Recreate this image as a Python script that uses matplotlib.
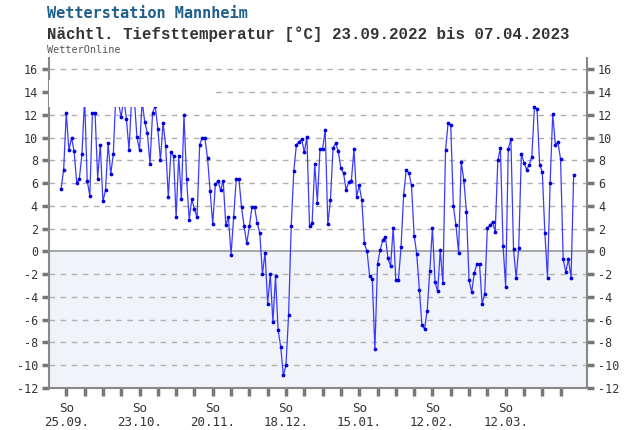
import matplotlib
matplotlib.use("Agg")
import matplotlib.pyplot as plt
import pandas as pd
from matplotlib.patches import Rectangle

# nightly minimum temperature, Mannheim, one value per day from 23.09.2022
start_date = "2022-09-23"
tmin = [
    5.5, 7.2, 12.2, 8.9, 10.0, 8.8, 6.0, 6.4, 8.6, 13.5,
    6.2, 4.9, 12.2, 12.2, 6.4, 9.4, 4.4, 5.4, 9.5, 6.8,
    8.6, 14.2, 13.0, 11.8, 13.5, 11.6, 8.9, 13.6, 13.5, 10.1,
    8.9, 13.2, 11.4, 10.4, 7.7, 12.2, 12.8, 10.8, 8.0, 11.3,
    9.3, 4.8, 8.7, 8.4, 3.0, 8.4, 4.6, 12.0, 6.4, 2.8,
    4.6, 3.7, 3.0, 9.4, 10.0, 10.0, 8.2, 5.3, 2.4, 5.9,
    6.2, 5.4, 6.2, 2.3, 3.0, -0.3, 3.0, 6.4, 6.4, 3.9,
    2.2, 0.7, 2.2, 3.9, 3.9, 2.5, 1.6, -2.0, -0.1, -4.6,
    -2.0, -6.2, -2.2, -6.9, -8.4, -10.9, -10.0, -5.6, 2.2, 7.1,
    9.4, 9.6, 9.9, 8.7, 10.1, 2.2, 2.5, 7.7, 4.3, 9.0,
    9.0, 10.7, 2.4, 4.5, 9.1, 9.5, 8.8, 7.3, 6.9, 5.4,
    6.1, 6.2, 9.0, 4.8, 5.8, 4.5, 0.7, 0.0, -2.2, -2.4,
    -8.6, -1.1, 0.1, 1.0, 1.3, -0.6, -1.3, 2.1, -2.5, -2.5,
    0.4, 5.0, 7.2, 6.9, 5.8, 1.4, -0.2, -3.4, -6.5, -6.8,
    -5.2, -1.7, 2.1, -2.7, -3.5, 0.1, -2.8, 8.9, 11.3, 11.1,
    4.0, 2.3, -0.1, 7.9, 6.3, 3.5, -2.5, -3.6, -1.9, -1.1,
    -1.1, -4.6, -3.7, 2.1, 2.3, 2.6, 1.7, 8.0, 9.1, 0.5,
    -3.1, 9.0, 9.9, 0.2, -2.3, 0.3, 8.6, 7.8, 7.2, 7.6,
    8.3, 12.7, 12.5, 7.6, 7.0, 1.6, -2.3, 6.0, 12.1, 9.4,
    9.6, 8.1, -0.7, -1.8, -0.7, -2.3, 6.7,
]
y_ticks = list(range(-12, 17, 2))
first_sunday = "2022-09-25"
last_sunday = "2023-04-02"

dates = pd.date_range(start_date, periods=len(tmin), freq="D")
week_ticks = pd.date_range(first_sunday, last_sunday, freq="7D").to_pydatetime()
week_labels = [("So\n" + d.strftime("%d.%m.")) if i % 4 == 0 else "" for i, d in enumerate(week_ticks)]

fig = plt.figure(figsize=(6.35, 4.3), dpi=100)
ax = fig.add_axes([0.0772, 0.0977, 0.8472, 0.7673])

ax.set_xlim(dates[0] - pd.Timedelta(days=4.6), dates[0] + pd.Timedelta(days=201.1))
ax.set_ylim(-12, 17)

# frost area and grid
ax.axhspan(-12, 0, color="#f0f4fa", zorder=0)
for v in y_ticks:
    if v == 0:
        ax.axhline(v, color="#999999", lw=1.2, zorder=1)
    elif v > -12:
        ax.axhline(v, color="#b0b0b0", lw=1.0, ls=(0, (4, 4)), zorder=1)

ax.plot(dates, tmin, color="#3a3aff", lw=0.9, zorder=3,
        marker="o", markersize=1.7, markerfacecolor="#0000dd", markeredgecolor="#0000dd")

# blank box at top left (covers the upper part of the line)
ax.add_patch(Rectangle((0, 0.852), 0.3086, 0.082, transform=ax.transAxes,
                       facecolor="white", edgecolor="none", zorder=4))

ax.set_yticks(y_ticks)
ax.set_yticklabels([str(v) for v in y_ticks])
ax.set_xticks(week_ticks)
ax.set_xticklabels(week_labels)

ax.tick_params(axis="y", which="both", left=True, right=True, labelleft=True, labelright=True,
               length=5, width=2.5, color="#777777", labelsize=8.5, labelcolor="#333333", pad=3)
ax.tick_params(axis="x", length=6, width=2.5, color="#777777", labelsize=9, labelcolor="#333333", pad=4)
for lab in ax.get_xticklabels() + ax.get_yticklabels():
    lab.set_family("DejaVu Sans Mono")
for lab in ax.get_xticklabels():
    lab.set_linespacing(1.1)

for side in ["left", "right", "bottom"]:
    ax.spines[side].set_color("#888888")
    ax.spines[side].set_linewidth(1.5)
ax.spines["top"].set_visible(False)

fig.text(47 / 635, 1 - 14 / 430, "Wetterstation Mannheim", family="DejaVu Sans Mono",
         fontweight="bold", fontsize=11, color="#1f5f8b", va="center", ha="left")
fig.text(47 / 635, 1 - 34 / 430, "Nächtl. Tiefsttemperatur [°C] 23.09.2022 bis 07.04.2023",
         family="Liberation Mono", fontweight="bold", fontsize=11.3, color="#333333",
         va="center", ha="left")
fig.text(47 / 635, 1 - 50 / 430, "WetterOnline", family="DejaVu Sans Mono", fontsize=7.3,
         color="#555555", va="center", ha="left")

fig.savefig("out.png", dpi=100)
